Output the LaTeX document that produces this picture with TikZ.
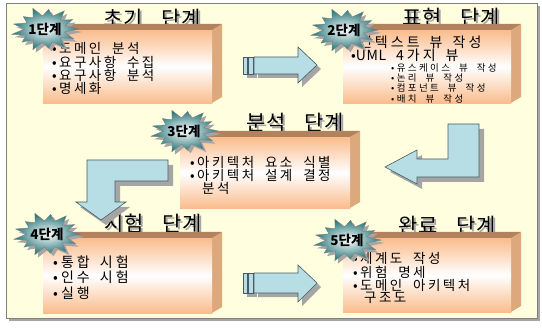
\documentclass[tikz,border=0pt]{standalone}
\usepackage{fontspec}
\newfontfamily\kr{Noto Sans CJK KR}
\newfontfamily\krtitle[LetterSpace=4,WordSpace=3.3]{Noto Sans CJK KR}
\newfontfamily\krbody[LetterSpace=18,WordSpace=2.0]{Noto Sans CJK KR}
\newfontfamily\krbig[LetterSpace=22,WordSpace=1.6]{Noto Sans CJK KR}
\newfontfamily\krsmall[LetterSpace=25,WordSpace=2.0]{Noto Sans CJK KR}
\definecolor{bg}{RGB}{255,255,224}
\definecolor{frameline}{RGB}{128,128,128}
\definecolor{boxor}{RGB}{250,188,140}
\definecolor{boxside}{RGB}{221,168,124}
\definecolor{boxtop}{RGB}{178,130,94}
\definecolor{arrfill}{RGB}{183,222,228}
\definecolor{arrline}{RGB}{70,92,98}
\definecolor{shadowgray}{RGB}{165,165,165}
\definecolor{burstteal}{RGB}{38,118,122}
\newcommand\tshadow[1]{\rlap{\raisebox{-2pt}{\kern2pt\textcolor{shadowgray}{#1}}}#1}
\tikzset{
  front/.style={inner sep=0pt, anchor=north west, top color=boxor, bottom color=boxor, middle color=white},
  blockarrow/.style={fill=arrfill, draw=arrline, line width=0.6pt, line join=miter},
  arrowshadow/.style={fill=shadowgray},
  titletext/.style={font=\krtitle\fontsize{21}{24}\selectfont, inner sep=0pt},
  bodytext/.style={font=\krbody\fontsize{13.5}{16}\selectfont, inner sep=0pt, anchor=west},
  bigtext/.style={font=\krbig\fontsize{14}{16}\selectfont, inner sep=0pt, anchor=west},
  smalltext/.style={font=\krsmall\fontsize{9.5}{11}\selectfont, inner sep=0pt, anchor=west},
  burstlabel/.style={font=\kr\bfseries\fontsize{13.5}{15}\selectfont, inner sep=0pt}
}
\newcommand\burstpath{({34*cos(0)},{22*sin(0)})
  \foreach \a/\r in {13.8/0.58, 27.7/0.95, 41.5/0.6, 55.4/1.0, 69.2/0.62, 83.1/0.88, 96.9/0.6, 110.8/1.0, 124.6/0.6, 138.5/0.9, 152.3/0.62, 166.2/1.0, 180/0.6, 193.8/0.95, 207.7/0.6, 221.5/0.85, 235.4/0.62, 249.2/1.0, 263.1/0.6, 276.9/0.9, 290.8/0.62, 304.6/1.0, 318.5/0.6, 332.3/0.92, 346.2/0.6}
  { -- ({\r*34*cos(\a)},{\r*22*sin(\a)}) } -- cycle}
\newcommand\burst[4]{%
  \fill[shadowgray, shift={(#2+3,#3+3)}] \burstpath;
  \shade[shift={(#2,#3)}, inner color=white, outer color=burstteal, draw=gray, line width=0.4pt] \burstpath;
  \node[burstlabel] (#1) at (#2,#3) {#4};
}
\newcommand\cubebox[5]{%
  \fill[boxside] (#4,#3) -- (#4+10,#3-6) -- (#4+10,#5-6) -- (#4,#5) -- cycle;
  \fill[boxtop] (#2,#3) -- (#2+10,#3-6) -- (#4+10,#3-6) -- (#4,#3) -- cycle;
  \node[front, minimum width={(#4-#2)*1pt}, minimum height={(#5-#3)*1pt}] (#1) at (#2,#3) {};
}
\begin{document}
\begin{tikzpicture}[x=1pt,y=-1pt]
\useasboundingbox (0,0) rectangle (542,329);
% frame
\fill[shadowgray] (9,6) rectangle (540,321);
\draw[fill=bg, draw=frameline, line width=0.8pt] (6,3) rectangle (537,318);

% titles
\node[titletext] (tt1) at (152,20) {\tshadow{초기 단계}};
\node[titletext] (tt2) at (451,19) {\tshadow{표현 단계}};
\node[titletext] (tt3) at (295,124) {\tshadow{분석 단계}};
\node[titletext] (tt4) at (153,225) {\tshadow{시험 단계}};
\node[titletext] (tt5) at (447,227) {\tshadow{완료 단계}};

% boxes
\cubebox{b1}{43}{30}{212}{103}
\cubebox{b2}{343}{30}{511}{103}
\cubebox{b3}{180}{137}{350}{208}
\cubebox{b4}{43}{238}{212}{313}
\cubebox{b5}{343}{238}{511}{312}

% box texts
\node[bodytext] (t1a) at (52,48) {•도메인 분석};
\node[bodytext] (t1b) at (52,62) {•요구사항 수집};
\node[bodytext] (t1c) at (52,75) {•요구사항 분석};
\node[bodytext] (t1d) at (52,88) {•명세화};

\node[bigtext] (t2a) at (351,42) {•컨텍스트 뷰 작성};
\node[bigtext] (t2b) at (351,55) {•{\addfontfeature{LetterSpace=4}UML} 4가지 뷰};
\node[smalltext] (t2c) at (391,68) {•유스케이스 뷰 작성};
\node[smalltext] (t2d) at (391,78) {•논리 뷰 작성};
\node[smalltext] (t2e) at (391,88) {•컴포넌트 뷰 작성};
\node[smalltext] (t2f) at (391,99) {•배치 뷰 작성};

\node[bodytext] (t3a) at (190,162) {•아키텍처 요소 식별};
\node[bodytext] (t3b) at (190,175) {•아키텍처 설계 결정};
\node[bodytext] (t3c) at (202,188) {분석};

\node[bigtext] (t4a) at (53,262) {•통합 시험};
\node[bigtext] (t4b) at (53,277) {•인수 시험};
\node[bigtext] (t4c) at (53,293) {•실행};

\node[bodytext] (t5a) at (353,258) {•체계도 작성};
\node[bodytext] (t5b) at (353,272) {•위험 명세};
\node[bodytext] (t5c) at (353,285) {•도메인 아키텍처};
\node[bodytext] (t5d) at (364,298) {구조도};

% block arrows
% arrow 1 (right, top)
\fill[arrowshadow] (258,61) -- (302,61) -- (302,51) -- (321,69) -- (302,87) -- (302,78) -- (258,78) -- cycle;
\fill[arrowshadow] (247,61) rectangle (257,78);
\draw[blockarrow] (243,57) rectangle (247,74);
\draw[blockarrow] (248,57) rectangle (253,74);
\draw[blockarrow] (254,57) -- (298,57) -- (298,47) -- (317,65) -- (298,83) -- (298,74) -- (254,74) -- cycle;
% arrow 2 (bent, pointing left)
\fill[arrowshadow] (453,129) -- (484,129) -- (484,182) -- (422,182) -- (422,189) -- (390,172) -- (422,155) -- (422,164) -- (453,164) -- cycle;
\draw[blockarrow] (448,124) -- (479,124) -- (479,177) -- (417,177) -- (417,184) -- (385,167) -- (417,150) -- (417,159) -- (448,159) -- cycle;
% arrow 3 (bent, pointing down)
\fill[arrowshadow] (173,165) -- (173,186) -- (120,186) -- (120,207) -- (130,207) -- (106,225) -- (80,207) -- (92,207) -- (92,165) -- cycle;
\draw[blockarrow] (168,160) -- (168,181) -- (115,181) -- (115,202) -- (126,202) -- (101,220) -- (76,202) -- (87,202) -- (87,160) -- cycle;
% arrow 4 (right, bottom)
\fill[arrowshadow] (258,277) -- (302,277) -- (302,269) -- (321,287) -- (302,306) -- (302,297) -- (258,297) -- cycle;
\fill[arrowshadow] (247,277) rectangle (257,297);
\draw[blockarrow] (243,273) rectangle (247,293);
\draw[blockarrow] (248,273) rectangle (253,293);
\draw[blockarrow] (254,273) -- (298,273) -- (298,265) -- (317,283) -- (298,302) -- (298,293) -- (254,293) -- cycle;

% starbursts
\burst{s1}{45}{29}{1단계}
\burst{s2}{344}{30}{2단계}
\burst{s3}{184}{131}{3단계}
\burst{s4}{47}{234}{4단계}
\burst{s5}{347}{240}{5단계}
\end{tikzpicture}
\end{document}
